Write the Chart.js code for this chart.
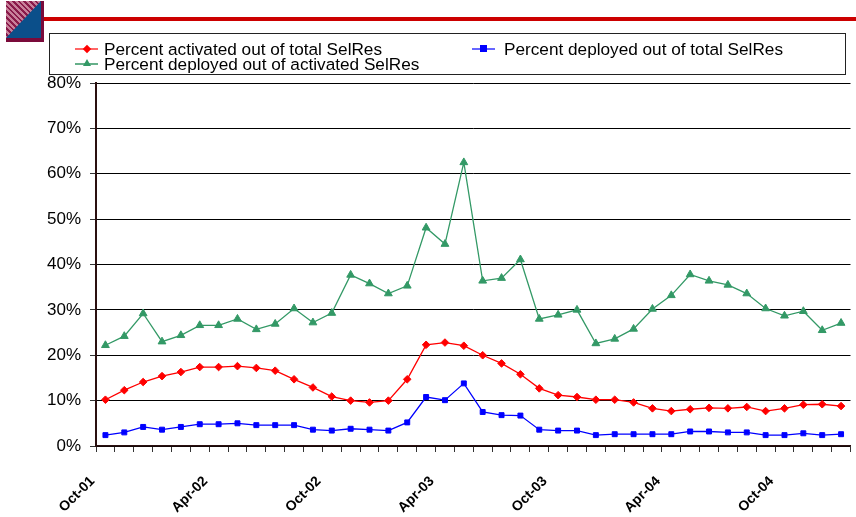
<!DOCTYPE html>
<html>
<head>
<meta charset="utf-8">
<script src="https://cdn.jsdelivr.net/npm/chart.js@4.4.1/dist/chart.umd.min.js"></script>
<style>
    body { margin: 0; background: #fff; font-family: "Liberation Sans", Arial, sans-serif; }
    #wrap { position: relative; width: 856px; height: 517px; overflow: hidden; }
    #chart { position: absolute; left: 0; top: 0; }
    .logo { position: absolute; left: 6px; top: 1px; width: 35px; height: 37px; border-right: 3px solid #7a0a3a; border-bottom: 4px solid #7a0a3a;
        background: repeating-linear-gradient(45deg, #c8809a 0 2px, #8a1a4a 2px 4px); }
    .logo::after { content: ""; position: absolute; left: 0; top: 0; width: 100%; height: 100%; background: #0b4f8a; clip-path: polygon(100% 0, 100% 100%, 0 100%); }
    .rule { position: absolute; left: 44px; top: 17px; width: 812px; height: 4px; background: #cc0000; }
    .legend { position: absolute; left: 49px; top: 33px; width: 795px; height: 40px; border: 1px solid #222; }
    .item { position: absolute; font-size: 17.2px; color: #000; white-space: nowrap; line-height: 18px; }
    .item .ln { position: absolute; top: 8px; height: 2px; width: 23px; }
    .item .txt { position: absolute; left: 29px; top: 0; }
    .mk { position: absolute; }
</style>
</head>
<body>
<div id="wrap">
    <canvas id="chart" width="856" height="517"></canvas>
    <div class="logo"></div>
    <div class="rule"></div>
    <div class="legend">
        <div class="item" style="left: 25px; top: 6px;">
            <span class="ln" style="left: 0; background: #ff6666;"></span>
            <span class="mk" style="left: 9px; top: 6px; width: 6px; height: 6px; background: #ff0000; transform: rotate(45deg);"></span>
            <span class="txt">Percent activated out of total SelRes</span>
        </div>
        <div class="item" style="left: 422px; top: 6px;">
            <span class="ln" style="left: 0; background: #6666ff;"></span>
            <span class="mk" style="left: 8px; top: 5px; width: 7px; height: 7px; background: #0000ff;"></span>
            <span class="txt" style="left: 32px;">Percent deployed out of total SelRes</span>
        </div>
        <div class="item" style="left: 25px; top: 21px;">
            <span class="ln" style="left: 0; background: #66b08a;"></span>
            <span class="mk" style="left: 8px; top: 4px; width: 0; height: 0; border-left: 4px solid transparent; border-right: 4px solid transparent; border-bottom: 7px solid #339966;"></span>
            <span class="txt">Percent deployed out of activated SelRes</span>
        </div>
    </div>
</div>
<script>
const categories = ['Oct-01', 'Nov-01', 'Dec-01', 'Jan-02', 'Feb-02', 'Mar-02', 'Apr-02', 'May-02', 'Jun-02', 'Jul-02',
    'Aug-02', 'Sep-02', 'Oct-02', 'Nov-02', 'Dec-02', 'Jan-03', 'Feb-03', 'Mar-03', 'Apr-03', 'May-03',
    'Jun-03', 'Jul-03', 'Aug-03', 'Sep-03', 'Oct-03', 'Nov-03', 'Dec-03', 'Jan-04', 'Feb-04', 'Mar-04',
    'Apr-04', 'May-04', 'Jun-04', 'Jul-04', 'Aug-04', 'Sep-04', 'Oct-04', 'Nov-04', 'Dec-04', 'Jan-05'];
const shownTicks = ['Oct-01', 'Apr-02', 'Oct-02', 'Apr-03', 'Oct-03', 'Apr-04', 'Oct-04'];

const activatedOfTotal = [10.2, 12.3, 14.1, 15.4, 16.3, 17.4, 17.4, 17.6, 17.2, 16.6,
    14.7, 12.9, 10.9, 10.0, 9.6, 10.0, 14.7, 22.3, 22.8, 22.1,
    20.0, 18.2, 15.8, 12.7, 11.2, 10.8, 10.2, 10.2, 9.6, 8.3,
    7.7, 8.1, 8.4, 8.3, 8.6, 7.7, 8.3, 9.1, 9.2, 8.8];
const deployedOfTotal = [2.4, 3.0, 4.2, 3.6, 4.2, 4.8, 4.8, 5.0, 4.6, 4.6,
    4.6, 3.6, 3.4, 3.8, 3.6, 3.4, 5.2, 10.8, 10.1, 13.8,
    7.5, 6.8, 6.7, 3.6, 3.4, 3.4, 2.4, 2.6, 2.6, 2.6,
    2.6, 3.2, 3.2, 3.0, 3.0, 2.4, 2.4, 2.8, 2.4, 2.6];
const deployedOfActivated = [22.2, 24.2, 29.2, 23.0, 24.4, 26.6, 26.6, 28.0, 25.7, 26.9,
    30.3, 27.2, 29.3, 37.7, 35.8, 33.6, 35.3, 48.1, 44.5, 62.5,
    36.4, 37.0, 41.1, 28.0, 28.9, 30.0, 22.6, 23.6, 25.8, 30.2,
    33.2, 37.8, 36.4, 35.5, 33.6, 30.3, 28.7, 29.7, 25.5, 27.1];
const yMax = 80, yStep = 10;

Chart.defaults.font.family = '"Liberation Sans", Arial, sans-serif';
Chart.defaults.color = '#000';

function series(label, data, color, style, radius) {
    return {
        label, data,
        borderColor: color, backgroundColor: color,
        borderWidth: 1.3,
        pointStyle: style, pointRadius: radius,
        pointBorderWidth: 1, pointBorderColor: color,
        tension: 0
    };
}

new Chart(document.getElementById('chart'), {
    type: 'line',
    data: {
        labels: categories,
        datasets: [
            series('Percent deployed out of activated SelRes', deployedOfActivated, '#339966', 'triangle', 4.5),
            series('Percent activated out of total SelRes', activatedOfTotal, '#ff0000', 'rectRot', 3.8),
            series('Percent deployed out of total SelRes', deployedOfTotal, '#0000ff', 'rect', 3.5)
        ]
    },
    options: {
        responsive: false,
        animation: false,
        devicePixelRatio: 1,
        layout: { padding: { top: 83, left: 0, right: 0, bottom: 0 } },
        plugins: { legend: { display: false }, tooltip: { enabled: false } },
        scales: {
            x: {
                offset: true,
                grid: { offset: true, drawOnChartArea: false, tickLength: 6, tickColor: '#333' },
                border: { color: '#2a1010', width: 1.5 },
                ticks: {
                    autoSkip: false, maxRotation: 45, minRotation: 45,
                    labelOffset: -13, padding: 21,
                    font: { size: 14, weight: 'bold' },
                    callback: function (v, i) {
                        const c = categories[i];
                        return shownTicks.includes(c) ? c : '';
                    }
                },
                afterFit: function (s) { s.height = 71; s.paddingRight = 0; s.paddingLeft = 0; }
            },
            y: {
                min: 0, max: yMax,
                grid: { color: '#000', lineWidth: 1, tickLength: 6, tickColor: '#333' },
                border: { color: '#2a1010', width: 2 },
                ticks: {
                    stepSize: yStep, padding: 9,
                    font: { size: 17 },
                    callback: v => v + '%'
                },
                afterFit: function (s) { s.width = 96; }
            }
        }
    }
});
</script>
</body>
</html>
